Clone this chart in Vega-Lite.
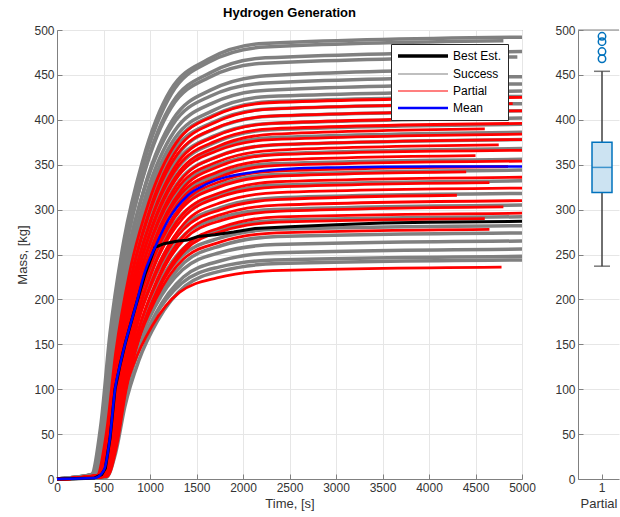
{
"$schema":"https://vega.github.io/schema/vega-lite/v6.json",
"background":"white",
"padding":{"left":16,"top":6,"right":0,"bottom":0},
"spacing":18,
"resolve":{"scale":{"color":"independent"},"legend":{"color":"independent"}},
"config":{
"font":"Liberation Sans",
"view":{"stroke":"#808080","strokeWidth":1},
"axis":{"labelFont":"Liberation Sans","labelFontSize":12,"labelColor":"#333333","titleFont":"Liberation Sans","titleFontSize":13,"titleFontWeight":"normal","titleColor":"#333333","domainColor":"#808080","tickColor":"#808080","gridColor":"#e6e6e6","labelFlush":false,"labelOverlap":false,"tickSize":-5,"labelPadding":8,"format":"d"},
"title":{"font":"Liberation Sans","fontSize":13,"fontWeight":"bold","color":"#000000"}
},
"datasets":{
"curves":[
{"k":1,"s":"S","t":0,"m":0},{"k":1,"s":"S","t":370,"m":5},{"k":1,"s":"S","t":470,"m":59},{"k":1,"s":"S","t":570,"m":162},{"k":1,"s":"S","t":720,"m":266},{"k":1,"s":"S","t":920,"m":354},{"k":1,"s":"S","t":1220,"m":433},{"k":1,"s":"S","t":1620,"m":467},{"k":1,"s":"S","t":2220,"m":485},{"k":1,"s":"S","t":5000,"m":492},
{"k":2,"s":"P","t":0,"m":0},{"k":2,"s":"P","t":430,"m":4},{"k":2,"s":"P","t":530,"m":51},{"k":2,"s":"P","t":630,"m":140},{"k":2,"s":"P","t":780,"m":230},{"k":2,"s":"P","t":980,"m":306},{"k":2,"s":"P","t":1280,"m":374},{"k":2,"s":"P","t":1680,"m":404},{"k":2,"s":"P","t":2280,"m":419},{"k":2,"s":"P","t":5000,"m":425},
{"k":3,"s":"S","t":0,"m":0},{"k":3,"s":"S","t":380,"m":5},{"k":3,"s":"S","t":480,"m":59},{"k":3,"s":"S","t":580,"m":161},{"k":3,"s":"S","t":730,"m":264},{"k":3,"s":"S","t":930,"m":351},{"k":3,"s":"S","t":1230,"m":429},{"k":3,"s":"S","t":1630,"m":464},{"k":3,"s":"S","t":2230,"m":481},{"k":3,"s":"S","t":4800,"m":488},
{"k":4,"s":"P","t":0,"m":0},{"k":4,"s":"P","t":450,"m":4},{"k":4,"s":"P","t":550,"m":50},{"k":4,"s":"P","t":650,"m":138},{"k":4,"s":"P","t":800,"m":226},{"k":4,"s":"P","t":1000,"m":301},{"k":4,"s":"P","t":1300,"m":368},{"k":4,"s":"P","t":1700,"m":397},{"k":4,"s":"P","t":2300,"m":412},{"k":4,"s":"P","t":4900,"m":418},
{"k":5,"s":"S","t":0,"m":0},{"k":5,"s":"S","t":390,"m":5},{"k":5,"s":"S","t":490,"m":57},{"k":5,"s":"S","t":590,"m":157},{"k":5,"s":"S","t":740,"m":257},{"k":5,"s":"S","t":940,"m":343},{"k":5,"s":"S","t":1240,"m":419},{"k":5,"s":"S","t":1640,"m":452},{"k":5,"s":"S","t":2240,"m":469},{"k":5,"s":"S","t":5000,"m":476},
{"k":6,"s":"P","t":0,"m":0},{"k":6,"s":"P","t":440,"m":4},{"k":6,"s":"P","t":540,"m":49},{"k":6,"s":"P","t":640,"m":135},{"k":6,"s":"P","t":790,"m":221},{"k":6,"s":"P","t":990,"m":295},{"k":6,"s":"P","t":1290,"m":361},{"k":6,"s":"P","t":1690,"m":390},{"k":6,"s":"P","t":2290,"m":404},{"k":6,"s":"P","t":5000,"m":410},
{"k":7,"s":"S","t":0,"m":0},{"k":7,"s":"S","t":380,"m":5},{"k":7,"s":"S","t":480,"m":56},{"k":7,"s":"S","t":580,"m":155},{"k":7,"s":"S","t":730,"m":254},{"k":7,"s":"S","t":930,"m":338},{"k":7,"s":"S","t":1230,"m":414},{"k":7,"s":"S","t":1630,"m":447},{"k":7,"s":"S","t":2230,"m":463},{"k":7,"s":"S","t":4950,"m":470},
{"k":8,"s":"P","t":0,"m":0},{"k":8,"s":"P","t":460,"m":4},{"k":8,"s":"P","t":560,"m":48},{"k":8,"s":"P","t":660,"m":133},{"k":8,"s":"P","t":810,"m":217},{"k":8,"s":"P","t":1010,"m":289},{"k":8,"s":"P","t":1310,"m":354},{"k":8,"s":"P","t":1710,"m":382},{"k":8,"s":"P","t":2310,"m":396},{"k":8,"s":"P","t":4700,"m":402},
{"k":9,"s":"S","t":0,"m":0},{"k":9,"s":"S","t":400,"m":5},{"k":9,"s":"S","t":500,"m":55},{"k":9,"s":"S","t":600,"m":150},{"k":9,"s":"S","t":750,"m":246},{"k":9,"s":"S","t":950,"m":328},{"k":9,"s":"S","t":1250,"m":401},{"k":9,"s":"S","t":1650,"m":433},{"k":9,"s":"S","t":2250,"m":449},{"k":9,"s":"S","t":4550,"m":456},
{"k":10,"s":"P","t":0,"m":0},{"k":10,"s":"P","t":450,"m":4},{"k":10,"s":"P","t":550,"m":48},{"k":10,"s":"P","t":650,"m":131},{"k":10,"s":"P","t":800,"m":214},{"k":10,"s":"P","t":1000,"m":285},{"k":10,"s":"P","t":1300,"m":348},{"k":10,"s":"P","t":1700,"m":376},{"k":10,"s":"P","t":2300,"m":390},{"k":10,"s":"P","t":5000,"m":396},
{"k":11,"s":"S","t":0,"m":0},{"k":11,"s":"S","t":390,"m":4},{"k":11,"s":"S","t":490,"m":54},{"k":11,"s":"S","t":590,"m":148},{"k":11,"s":"S","t":740,"m":242},{"k":11,"s":"S","t":940,"m":323},{"k":11,"s":"S","t":1240,"m":394},{"k":11,"s":"S","t":1640,"m":426},{"k":11,"s":"S","t":2240,"m":441},{"k":11,"s":"S","t":5000,"m":448},
{"k":12,"s":"P","t":0,"m":0},{"k":12,"s":"P","t":470,"m":4},{"k":12,"s":"P","t":570,"m":47},{"k":12,"s":"P","t":670,"m":129},{"k":12,"s":"P","t":820,"m":211},{"k":12,"s":"P","t":1020,"m":281},{"k":12,"s":"P","t":1320,"m":343},{"k":12,"s":"P","t":1720,"m":370},{"k":12,"s":"P","t":2320,"m":384},{"k":12,"s":"P","t":4600,"m":390},
{"k":13,"s":"S","t":0,"m":0},{"k":13,"s":"S","t":410,"m":4},{"k":13,"s":"S","t":510,"m":53},{"k":13,"s":"S","t":610,"m":145},{"k":13,"s":"S","t":760,"m":238},{"k":13,"s":"S","t":960,"m":317},{"k":13,"s":"S","t":1260,"m":387},{"k":13,"s":"S","t":1660,"m":418},{"k":13,"s":"S","t":2260,"m":433},{"k":13,"s":"S","t":5000,"m":440},
{"k":14,"s":"P","t":0,"m":0},{"k":14,"s":"P","t":460,"m":4},{"k":14,"s":"P","t":560,"m":46},{"k":14,"s":"P","t":660,"m":127},{"k":14,"s":"P","t":810,"m":207},{"k":14,"s":"P","t":1010,"m":276},{"k":14,"s":"P","t":1310,"m":338},{"k":14,"s":"P","t":1710,"m":365},{"k":14,"s":"P","t":2310,"m":378},{"k":14,"s":"P","t":5000,"m":384},
{"k":15,"s":"S","t":0,"m":0},{"k":15,"s":"S","t":420,"m":4},{"k":15,"s":"S","t":520,"m":52},{"k":15,"s":"S","t":620,"m":143},{"k":15,"s":"S","t":770,"m":233},{"k":15,"s":"S","t":970,"m":311},{"k":15,"s":"S","t":1270,"m":380},{"k":15,"s":"S","t":1670,"m":410},{"k":15,"s":"S","t":2270,"m":426},{"k":15,"s":"S","t":5000,"m":432},
{"k":16,"s":"P","t":0,"m":0},{"k":16,"s":"P","t":480,"m":4},{"k":16,"s":"P","t":580,"m":45},{"k":16,"s":"P","t":680,"m":125},{"k":16,"s":"P","t":830,"m":204},{"k":16,"s":"P","t":1030,"m":272},{"k":16,"s":"P","t":1330,"m":333},{"k":16,"s":"P","t":1730,"m":359},{"k":16,"s":"P","t":2330,"m":372},{"k":16,"s":"P","t":5000,"m":378},
{"k":17,"s":"S","t":0,"m":0},{"k":17,"s":"S","t":430,"m":4},{"k":17,"s":"S","t":530,"m":51},{"k":17,"s":"S","t":630,"m":141},{"k":17,"s":"S","t":780,"m":230},{"k":17,"s":"S","t":980,"m":307},{"k":17,"s":"S","t":1280,"m":375},{"k":17,"s":"S","t":1680,"m":405},{"k":17,"s":"S","t":2280,"m":420},{"k":17,"s":"S","t":5000,"m":426},
{"k":18,"s":"P","t":0,"m":0},{"k":18,"s":"P","t":470,"m":4},{"k":18,"s":"P","t":570,"m":45},{"k":18,"s":"P","t":670,"m":123},{"k":18,"s":"P","t":820,"m":201},{"k":18,"s":"P","t":1020,"m":268},{"k":18,"s":"P","t":1320,"m":327},{"k":18,"s":"P","t":1720,"m":353},{"k":18,"s":"P","t":2320,"m":366},{"k":18,"s":"P","t":4750,"m":372},
{"k":19,"s":"S","t":0,"m":0},{"k":19,"s":"S","t":420,"m":4},{"k":19,"s":"S","t":520,"m":50},{"k":19,"s":"S","t":620,"m":138},{"k":19,"s":"S","t":770,"m":226},{"k":19,"s":"S","t":970,"m":301},{"k":19,"s":"S","t":1270,"m":368},{"k":19,"s":"S","t":1670,"m":397},{"k":19,"s":"S","t":2270,"m":412},{"k":19,"s":"S","t":5000,"m":418},
{"k":20,"s":"P","t":0,"m":0},{"k":20,"s":"P","t":490,"m":4},{"k":20,"s":"P","t":590,"m":44},{"k":20,"s":"P","t":690,"m":121},{"k":20,"s":"P","t":840,"m":198},{"k":20,"s":"P","t":1040,"m":264},{"k":20,"s":"P","t":1340,"m":322},{"k":20,"s":"P","t":1740,"m":348},{"k":20,"s":"P","t":2340,"m":361},{"k":20,"s":"P","t":5000,"m":366},
{"k":21,"s":"S","t":0,"m":0},{"k":21,"s":"S","t":450,"m":4},{"k":21,"s":"S","t":550,"m":49},{"k":21,"s":"S","t":650,"m":135},{"k":21,"s":"S","t":800,"m":221},{"k":21,"s":"S","t":1000,"m":295},{"k":21,"s":"S","t":1300,"m":361},{"k":21,"s":"S","t":1700,"m":390},{"k":21,"s":"S","t":2300,"m":404},{"k":21,"s":"S","t":5000,"m":410},
{"k":22,"s":"P","t":0,"m":0},{"k":22,"s":"P","t":480,"m":4},{"k":22,"s":"P","t":580,"m":43},{"k":22,"s":"P","t":680,"m":119},{"k":22,"s":"P","t":830,"m":194},{"k":22,"s":"P","t":1030,"m":259},{"k":22,"s":"P","t":1330,"m":317},{"k":22,"s":"P","t":1730,"m":342},{"k":22,"s":"P","t":2330,"m":355},{"k":22,"s":"P","t":4500,"m":360},
{"k":23,"s":"S","t":0,"m":0},{"k":23,"s":"S","t":440,"m":4},{"k":23,"s":"S","t":540,"m":48},{"k":23,"s":"S","t":640,"m":133},{"k":23,"s":"S","t":790,"m":217},{"k":23,"s":"S","t":990,"m":289},{"k":23,"s":"S","t":1290,"m":354},{"k":23,"s":"S","t":1690,"m":382},{"k":23,"s":"S","t":2290,"m":396},{"k":23,"s":"S","t":5000,"m":402},
{"k":24,"s":"P","t":0,"m":0},{"k":24,"s":"P","t":490,"m":4},{"k":24,"s":"P","t":590,"m":42},{"k":24,"s":"P","t":690,"m":117},{"k":24,"s":"P","t":840,"m":191},{"k":24,"s":"P","t":1040,"m":255},{"k":24,"s":"P","t":1340,"m":312},{"k":24,"s":"P","t":1740,"m":336},{"k":24,"s":"P","t":2340,"m":349},{"k":24,"s":"P","t":5000,"m":354},
{"k":25,"s":"S","t":0,"m":0},{"k":25,"s":"S","t":460,"m":4},{"k":25,"s":"S","t":560,"m":47},{"k":25,"s":"S","t":660,"m":130},{"k":25,"s":"S","t":810,"m":213},{"k":25,"s":"S","t":1010,"m":284},{"k":25,"s":"S","t":1310,"m":348},{"k":25,"s":"S","t":1710,"m":375},{"k":25,"s":"S","t":2310,"m":389},{"k":25,"s":"S","t":5000,"m":395},
{"k":26,"s":"P","t":0,"m":0},{"k":26,"s":"P","t":500,"m":3},{"k":26,"s":"P","t":600,"m":42},{"k":26,"s":"P","t":700,"m":115},{"k":26,"s":"P","t":850,"m":188},{"k":26,"s":"P","t":1050,"m":251},{"k":26,"s":"P","t":1350,"m":306},{"k":26,"s":"P","t":1750,"m":331},{"k":26,"s":"P","t":2350,"m":343},{"k":26,"s":"P","t":4850,"m":348},
{"k":27,"s":"S","t":0,"m":0},{"k":27,"s":"S","t":450,"m":4},{"k":27,"s":"S","t":550,"m":46},{"k":27,"s":"S","t":650,"m":127},{"k":27,"s":"S","t":800,"m":208},{"k":27,"s":"S","t":1000,"m":278},{"k":27,"s":"S","t":1300,"m":340},{"k":27,"s":"S","t":1700,"m":367},{"k":27,"s":"S","t":2300,"m":380},{"k":27,"s":"S","t":5000,"m":386},
{"k":28,"s":"P","t":0,"m":0},{"k":28,"s":"P","t":490,"m":3},{"k":28,"s":"P","t":590,"m":41},{"k":28,"s":"P","t":690,"m":113},{"k":28,"s":"P","t":840,"m":185},{"k":28,"s":"P","t":1040,"m":246},{"k":28,"s":"P","t":1340,"m":301},{"k":28,"s":"P","t":1740,"m":325},{"k":28,"s":"P","t":2340,"m":337},{"k":28,"s":"P","t":4400,"m":342},
{"k":29,"s":"S","t":0,"m":0},{"k":29,"s":"S","t":470,"m":4},{"k":29,"s":"S","t":570,"m":45},{"k":29,"s":"S","t":670,"m":125},{"k":29,"s":"S","t":820,"m":204},{"k":29,"s":"S","t":1020,"m":272},{"k":29,"s":"S","t":1320,"m":333},{"k":29,"s":"S","t":1720,"m":359},{"k":29,"s":"S","t":2320,"m":372},{"k":29,"s":"S","t":5000,"m":378},
{"k":30,"s":"P","t":0,"m":0},{"k":30,"s":"P","t":510,"m":3},{"k":30,"s":"P","t":610,"m":40},{"k":30,"s":"P","t":710,"m":111},{"k":30,"s":"P","t":860,"m":181},{"k":30,"s":"P","t":1060,"m":242},{"k":30,"s":"P","t":1360,"m":296},{"k":30,"s":"P","t":1760,"m":319},{"k":30,"s":"P","t":2360,"m":331},{"k":30,"s":"P","t":5000,"m":336},
{"k":31,"s":"S","t":0,"m":0},{"k":31,"s":"S","t":480,"m":4},{"k":31,"s":"S","t":580,"m":44},{"k":31,"s":"S","t":680,"m":121},{"k":31,"s":"S","t":830,"m":199},{"k":31,"s":"S","t":1030,"m":265},{"k":31,"s":"S","t":1330,"m":324},{"k":31,"s":"S","t":1730,"m":350},{"k":31,"s":"S","t":2330,"m":362},{"k":31,"s":"S","t":5000,"m":368},
{"k":32,"s":"P","t":0,"m":0},{"k":32,"s":"P","t":500,"m":3},{"k":32,"s":"P","t":600,"m":40},{"k":32,"s":"P","t":700,"m":109},{"k":32,"s":"P","t":850,"m":178},{"k":32,"s":"P","t":1050,"m":238},{"k":32,"s":"P","t":1350,"m":290},{"k":32,"s":"P","t":1750,"m":314},{"k":32,"s":"P","t":2350,"m":325},{"k":32,"s":"P","t":4650,"m":330},
{"k":33,"s":"S","t":0,"m":0},{"k":33,"s":"S","t":460,"m":4},{"k":33,"s":"S","t":560,"m":43},{"k":33,"s":"S","t":660,"m":117},{"k":33,"s":"S","t":810,"m":192},{"k":33,"s":"S","t":1010,"m":256},{"k":33,"s":"S","t":1310,"m":313},{"k":33,"s":"S","t":1710,"m":338},{"k":33,"s":"S","t":2310,"m":351},{"k":33,"s":"S","t":5000,"m":356},
{"k":34,"s":"P","t":0,"m":0},{"k":34,"s":"P","t":520,"m":3},{"k":34,"s":"P","t":620,"m":39},{"k":34,"s":"P","t":720,"m":107},{"k":34,"s":"P","t":870,"m":175},{"k":34,"s":"P","t":1070,"m":233},{"k":34,"s":"P","t":1370,"m":285},{"k":34,"s":"P","t":1770,"m":308},{"k":34,"s":"P","t":2370,"m":319},{"k":34,"s":"P","t":5000,"m":324},
{"k":35,"s":"S","t":0,"m":0},{"k":35,"s":"S","t":490,"m":3},{"k":35,"s":"S","t":590,"m":41},{"k":35,"s":"S","t":690,"m":114},{"k":35,"s":"S","t":840,"m":186},{"k":35,"s":"S","t":1040,"m":248},{"k":35,"s":"S","t":1340,"m":303},{"k":35,"s":"S","t":1740,"m":327},{"k":35,"s":"S","t":2340,"m":339},{"k":35,"s":"S","t":5000,"m":344},
{"k":36,"s":"P","t":0,"m":0},{"k":36,"s":"P","t":510,"m":3},{"k":36,"s":"P","t":610,"m":38},{"k":36,"s":"P","t":710,"m":104},{"k":36,"s":"P","t":860,"m":171},{"k":36,"s":"P","t":1060,"m":228},{"k":36,"s":"P","t":1360,"m":278},{"k":36,"s":"P","t":1760,"m":300},{"k":36,"s":"P","t":2360,"m":311},{"k":36,"s":"P","t":4300,"m":316},
{"k":37,"s":"S","t":0,"m":0},{"k":37,"s":"S","t":470,"m":3},{"k":37,"s":"S","t":570,"m":40},{"k":37,"s":"S","t":670,"m":110},{"k":37,"s":"S","t":820,"m":179},{"k":37,"s":"S","t":1020,"m":239},{"k":37,"s":"S","t":1320,"m":292},{"k":37,"s":"S","t":1720,"m":315},{"k":37,"s":"S","t":2320,"m":327},{"k":37,"s":"S","t":5000,"m":332},
{"k":38,"s":"P","t":0,"m":0},{"k":38,"s":"P","t":530,"m":3},{"k":38,"s":"P","t":630,"m":37},{"k":38,"s":"P","t":730,"m":102},{"k":38,"s":"P","t":880,"m":167},{"k":38,"s":"P","t":1080,"m":223},{"k":38,"s":"P","t":1380,"m":273},{"k":38,"s":"P","t":1780,"m":295},{"k":38,"s":"P","t":2380,"m":305},{"k":38,"s":"P","t":5000,"m":310},
{"k":39,"s":"S","t":0,"m":0},{"k":39,"s":"S","t":500,"m":3},{"k":39,"s":"S","t":600,"m":38},{"k":39,"s":"S","t":700,"m":105},{"k":39,"s":"S","t":850,"m":172},{"k":39,"s":"S","t":1050,"m":229},{"k":39,"s":"S","t":1350,"m":280},{"k":39,"s":"S","t":1750,"m":302},{"k":39,"s":"S","t":2350,"m":313},{"k":39,"s":"S","t":5000,"m":318},
{"k":40,"s":"P","t":0,"m":0},{"k":40,"s":"P","t":520,"m":3},{"k":40,"s":"P","t":620,"m":36},{"k":40,"s":"P","t":720,"m":100},{"k":40,"s":"P","t":870,"m":164},{"k":40,"s":"P","t":1070,"m":218},{"k":40,"s":"P","t":1370,"m":267},{"k":40,"s":"P","t":1770,"m":288},{"k":40,"s":"P","t":2370,"m":298},{"k":40,"s":"P","t":4800,"m":303},
{"k":41,"s":"S","t":0,"m":0},{"k":41,"s":"S","t":480,"m":3},{"k":41,"s":"S","t":580,"m":37},{"k":41,"s":"S","t":680,"m":101},{"k":41,"s":"S","t":830,"m":165},{"k":41,"s":"S","t":1030,"m":220},{"k":41,"s":"S","t":1330,"m":268},{"k":41,"s":"S","t":1730,"m":290},{"k":41,"s":"S","t":2330,"m":300},{"k":41,"s":"S","t":5000,"m":305},
{"k":42,"s":"P","t":0,"m":0},{"k":42,"s":"P","t":540,"m":3},{"k":42,"s":"P","t":640,"m":36},{"k":42,"s":"P","t":740,"m":98},{"k":42,"s":"P","t":890,"m":160},{"k":42,"s":"P","t":1090,"m":213},{"k":42,"s":"P","t":1390,"m":260},{"k":42,"s":"P","t":1790,"m":281},{"k":42,"s":"P","t":2390,"m":292},{"k":42,"s":"P","t":5000,"m":296},
{"k":43,"s":"S","t":0,"m":0},{"k":43,"s":"S","t":510,"m":3},{"k":43,"s":"S","t":610,"m":35},{"k":43,"s":"S","t":710,"m":96},{"k":43,"s":"S","t":860,"m":158},{"k":43,"s":"S","t":1060,"m":210},{"k":43,"s":"S","t":1360,"m":257},{"k":43,"s":"S","t":1760,"m":277},{"k":43,"s":"S","t":2360,"m":288},{"k":43,"s":"S","t":5000,"m":292},
{"k":44,"s":"P","t":0,"m":0},{"k":44,"s":"P","t":530,"m":3},{"k":44,"s":"P","t":630,"m":35},{"k":44,"s":"P","t":730,"m":96},{"k":44,"s":"P","t":880,"m":157},{"k":44,"s":"P","t":1080,"m":209},{"k":44,"s":"P","t":1380,"m":255},{"k":44,"s":"P","t":1780,"m":276},{"k":44,"s":"P","t":2380,"m":286},{"k":44,"s":"P","t":4600,"m":290},
{"k":45,"s":"S","t":0,"m":0},{"k":45,"s":"S","t":490,"m":3},{"k":45,"s":"S","t":590,"m":34},{"k":45,"s":"S","t":690,"m":93},{"k":45,"s":"S","t":840,"m":152},{"k":45,"s":"S","t":1040,"m":203},{"k":45,"s":"S","t":1340,"m":248},{"k":45,"s":"S","t":1740,"m":268},{"k":45,"s":"S","t":2340,"m":278},{"k":45,"s":"S","t":5000,"m":282},
{"k":46,"s":"P","t":0,"m":0},{"k":46,"s":"P","t":510,"m":3},{"k":46,"s":"P","t":610,"m":33},{"k":46,"s":"P","t":710,"m":92},{"k":46,"s":"P","t":860,"m":150},{"k":46,"s":"P","t":1060,"m":200},{"k":46,"s":"P","t":1360,"m":245},{"k":46,"s":"P","t":1760,"m":264},{"k":46,"s":"P","t":2360,"m":274},{"k":46,"s":"P","t":4650,"m":278},
{"k":47,"s":"S","t":0,"m":0},{"k":47,"s":"S","t":520,"m":3},{"k":47,"s":"S","t":620,"m":33},{"k":47,"s":"S","t":720,"m":90},{"k":47,"s":"S","t":870,"m":148},{"k":47,"s":"S","t":1070,"m":197},{"k":47,"s":"S","t":1370,"m":241},{"k":47,"s":"S","t":1770,"m":260},{"k":47,"s":"S","t":2370,"m":270},{"k":47,"s":"S","t":5000,"m":274},
{"k":48,"s":"P","t":0,"m":0},{"k":48,"s":"P","t":470,"m":2},{"k":48,"s":"P","t":570,"m":28},{"k":48,"s":"P","t":670,"m":78},{"k":48,"s":"P","t":820,"m":127},{"k":48,"s":"P","t":1020,"m":170},{"k":48,"s":"P","t":1320,"m":208},{"k":48,"s":"P","t":1720,"m":224},{"k":48,"s":"P","t":2320,"m":232},{"k":48,"s":"P","t":4780,"m":236},
{"k":49,"s":"S","t":0,"m":0},{"k":49,"s":"S","t":500,"m":3},{"k":49,"s":"S","t":600,"m":32},{"k":49,"s":"S","t":700,"m":87},{"k":49,"s":"S","t":850,"m":143},{"k":49,"s":"S","t":1050,"m":191},{"k":49,"s":"S","t":1350,"m":233},{"k":49,"s":"S","t":1750,"m":252},{"k":49,"s":"S","t":2350,"m":261},{"k":49,"s":"S","t":5000,"m":265},
{"k":50,"s":"S","t":0,"m":0},{"k":50,"s":"S","t":510,"m":3},{"k":50,"s":"S","t":610,"m":31},{"k":50,"s":"S","t":710,"m":84},{"k":50,"s":"S","t":860,"m":138},{"k":50,"s":"S","t":1060,"m":184},{"k":50,"s":"S","t":1360,"m":225},{"k":50,"s":"S","t":1760,"m":243},{"k":50,"s":"S","t":2360,"m":252},{"k":50,"s":"S","t":5000,"m":256},
{"k":51,"s":"S","t":0,"m":0},{"k":51,"s":"S","t":490,"m":2},{"k":51,"s":"S","t":590,"m":30},{"k":51,"s":"S","t":690,"m":82},{"k":51,"s":"S","t":840,"m":134},{"k":51,"s":"S","t":1040,"m":179},{"k":51,"s":"S","t":1340,"m":218},{"k":51,"s":"S","t":1740,"m":236},{"k":51,"s":"S","t":2340,"m":244},{"k":51,"s":"S","t":5000,"m":248},
{"k":52,"s":"S","t":0,"m":0},{"k":52,"s":"S","t":530,"m":2},{"k":52,"s":"S","t":630,"m":29},{"k":52,"s":"S","t":730,"m":81},{"k":52,"s":"S","t":880,"m":132},{"k":52,"s":"S","t":1080,"m":176},{"k":52,"s":"S","t":1380,"m":215},{"k":52,"s":"S","t":1780,"m":232},{"k":52,"s":"S","t":2380,"m":240},{"k":52,"s":"S","t":5000,"m":244}
],
"best":[
{"s":"B","t":0,"m":0},{"s":"B","t":400,"m":1},{"s":"B","t":480,"m":5},{"s":"B","t":520,"m":12},{"s":"B","t":570,"m":45},{"s":"B","t":624,"m":100},{"s":"B","t":680,"m":128},{"s":"B","t":731,"m":150},{"s":"B","t":839,"m":190},{"s":"B","t":946,"m":228},{"s":"B","t":1054,"m":258},{"s":"B","t":1150,"m":262},{"s":"B","t":1300,"m":265},{"s":"B","t":1400,"m":266},{"s":"B","t":1516,"m":270},{"s":"B","t":1700,"m":272},{"s":"B","t":1900,"m":275},{"s":"B","t":2129,"m":279},{"s":"B","t":2500,"m":281},{"s":"B","t":3000,"m":283},{"s":"B","t":3500,"m":285},{"s":"B","t":4000,"m":286},{"s":"B","t":5000,"m":287}
],
"mean":[
{"s":"M","t":0,"m":0},{"s":"M","t":400,"m":1},{"s":"M","t":480,"m":6},{"s":"M","t":516,"m":13},{"s":"M","t":570,"m":47},{"s":"M","t":624,"m":100},{"s":"M","t":680,"m":128},{"s":"M","t":731,"m":150},{"s":"M","t":839,"m":190},{"s":"M","t":946,"m":231},{"s":"M","t":1054,"m":258},{"s":"M","t":1200,"m":289},{"s":"M","t":1409,"m":316},{"s":"M","t":1600,"m":328},{"s":"M","t":2129,"m":342},{"s":"M","t":2600,"m":346},{"s":"M","t":3000,"m":347},{"s":"M","t":4000,"m":348},{"s":"M","t":5000,"m":348}
],
"box":[{"g":"1","lo":237,"q1":319,"med":347,"q3":375,"hi":454}],
"out":[{"g":"1","v":468},{"g":"1","v":476},{"g":"1","v":487},{"g":"1","v":493}]
},
"hconcat":[
{
"title":{"text":"Hydrogen Generation","offset":4},
"width":465,"height":449,
"layer":[
{"data":{"name":"curves"},"transform":[{"filter":"datum.s=='S'"}],"mark":{"type":"line","interpolate":"monotone","strokeWidth":3.5},
"encoding":{
"x":{"field":"t","type":"quantitative","scale":{"domain":[0,5000],"nice":false},"axis":{"title":"Time, [s]","values":[0,500,1000,1500,2000,2500,3000,3500,4000,4500,5000]}},
"y":{"field":"m","type":"quantitative","scale":{"domain":[0,500],"nice":false},"axis":{"title":"Mass, [kg]","values":[0,50,100,150,200,250,300,350,400,450,500]}},
"color":{"field":"s","type":"nominal","scale":{"domain":["B","S","P","M"],"range":["#000000","#808080","#ff0000","#0000ff"]},
"legend":{"title":null,"orient":"top-right","offset":14,"fillColor":"#ffffff","strokeColor":"#262626","padding":6,"symbolType":"stroke","symbolSize":2500,"symbolStrokeWidth":2,"labelOffset":44,"labelFont":"Liberation Sans","labelFontSize":12,"labelColor":"#000000","rowPadding":5,
"labelExpr":"datum.label=='B'?'Best Est.':datum.label=='S'?'Success':datum.label=='P'?'Partial':'Mean'",
"encode":{"symbols":{"update":{"x":{"value":26},"strokeWidth":{"signal":"datum.value=='B'?3.5:datum.value=='M'?2.5:1.2"}}}}}},
"detail":{"field":"k","type":"nominal"}
}},
{"data":{"name":"curves"},"transform":[{"filter":"datum.s=='P'"}],"mark":{"type":"line","interpolate":"monotone","strokeWidth":2.8},
"encoding":{
"x":{"field":"t","type":"quantitative"},
"y":{"field":"m","type":"quantitative"},
"color":{"field":"s","type":"nominal"},
"detail":{"field":"k","type":"nominal"}
}},
{"data":{"name":"best"},"mark":{"type":"line","strokeWidth":3},
"encoding":{"x":{"field":"t","type":"quantitative"},"y":{"field":"m","type":"quantitative"},"color":{"field":"s","type":"nominal"}}},
{"data":{"name":"mean"},"mark":{"type":"line","interpolate":"monotone","strokeWidth":2.5},
"encoding":{"x":{"field":"t","type":"quantitative"},"y":{"field":"m","type":"quantitative"},"color":{"field":"s","type":"nominal"}}}
]
},
{
"width":41,"height":449,
"view":{"stroke":null},
"layer":[
{"data":{"name":"box"},"mark":{"type":"rule","color":"#404040","strokeWidth":1.5},
"encoding":{
"x":{"field":"g","type":"nominal","scale":{"type":"band","domain":["1"],"paddingInner":0,"paddingOuter":0.525,"align":0.667},"axis":{"title":"Partial","labelAngle":0,"grid":false}},
"y":{"field":"lo","type":"quantitative","scale":{"domain":[0,500],"nice":false},"axis":{"title":null,"values":[0,50,100,150,200,250,300,350,400,450,500]}},
"y2":{"field":"hi"}}},
{"data":{"name":"box"},"mark":{"type":"tick","color":"#404040","thickness":1.5,"size":16},
"encoding":{"x":{"field":"g","type":"nominal"},"y":{"field":"lo","type":"quantitative"}}},
{"data":{"name":"box"},"mark":{"type":"tick","color":"#404040","thickness":1.5,"size":16},
"encoding":{"x":{"field":"g","type":"nominal"},"y":{"field":"hi","type":"quantitative"}}},
{"data":{"name":"box"},"mark":{"type":"bar","fill":"#cce3f2","stroke":"#0072bd","strokeWidth":1.5},
"encoding":{"x":{"field":"g","type":"nominal"},"y":{"field":"q1","type":"quantitative"},"y2":{"field":"q3"}}},
{"data":{"name":"box"},"mark":{"type":"tick","color":"#0072bd","thickness":1.5,"size":20},
"encoding":{"x":{"field":"g","type":"nominal"},"y":{"field":"med","type":"quantitative"}}},
{"data":{"name":"out"},"mark":{"type":"point","filled":false,"color":"#0072bd","strokeWidth":1.5,"size":55,"opacity":1},
"encoding":{"x":{"field":"g","type":"nominal"},"y":{"field":"v","type":"quantitative"}}},
{"data":{"name":"box"},"mark":{"type":"rule","color":"#808080"},
"encoding":{"y":{"datum":500}}}
]
}
]
}
